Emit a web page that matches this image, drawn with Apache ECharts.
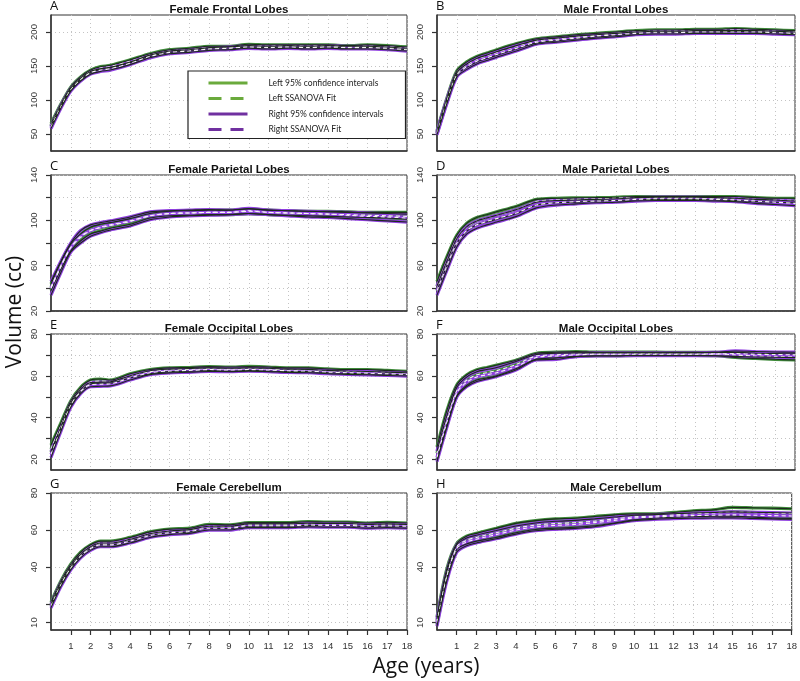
<!DOCTYPE html>
<html>
<head>
<meta charset="utf-8">
<script src="https://cdn.jsdelivr.net/npm/echarts@6/dist/echarts.min.js"></script>
<style>
  html, body { margin: 0; background: #fff; }
  #chart { width: 800px; height: 681px; }
</style>
</head>
<body>
<div id="chart"></div>
<script>
const ages = [0, 0.5, 1, 1.5, 2, 2.5, 3, 4, 5, 6, 7, 8, 9, 10, 11, 12, 13, 14, 15, 16, 17, 18]
const ageTicks = [1, 2, 3, 4, 5, 6, 7, 8, 9, 10, 11, 12, 13, 14, 15, 16, 17, 18]

const legendNames = ['Left 95% confidence intervals', 'Left SSANOVA Fit', 'Right 95% confidence intervals', 'Right SSANOVA Fit']
const panelTitles = ['Female Frontal Lobes', 'Male Frontal Lobes', 'Female Parietal Lobes', 'Male Parietal Lobes',
  'Female Occipital Lobes', 'Male Occipital Lobes', 'Female Cerebellum', 'Male Cerebellum']
const panelLetters = ['A', 'B', 'C', 'D', 'E', 'F', 'G', 'H']

// y axis ranges, grid step and labelled ticks per panel
const yMin = [25, 25, 20, 20, 15, 15, 6, 6]
const yMax = [225, 225, 140, 140, 80, 80, 80, 80]
const yStep = [50, 50, 20, 20, 10, 10, 10, 10]
const yTicks = [[50, 100, 150, 200], [50, 100, 150, 200], [20, 40, 60, 80, 100, 120, 140], [20, 40, 60, 80, 100, 120, 140],
  [20, 30, 40, 50, 60, 70, 80], [20, 30, 40, 50, 60, 70, 80], [10, 20, 40, 60, 80], [10, 20, 40, 60, 80]]
const yLabels = [[50, 100, 150, 200], [50, 100, 150, 200], [20, 60, 100, 140], [20, 60, 100, 140],
  [20, 40, 60, 80], [20, 40, 60, 80], [10, 40, 60, 80], [10, 40, 60, 80]]

// A - Female Frontal Lobes
const aLeftUp = [65, 94, 119, 134, 144, 149, 151, 159, 168, 174, 176, 179, 179, 182, 181, 181, 181, 181, 180, 181, 180, 178]
const aLeftFit = [63, 92, 117, 132, 142, 147, 149, 157, 166, 172, 174, 177, 177, 180, 179, 180, 179, 180, 178, 179, 178, 176]
const aLeftLo = [61, 90, 115, 130, 140, 145, 147, 155, 164, 170, 172, 175, 175, 178, 177, 178, 177, 178, 176, 177, 176, 174]
const aRightUp = [62, 92, 117, 132, 142, 146, 148, 156, 166, 172, 174, 177, 178, 180, 179, 180, 179, 180, 179, 179, 178, 176]
const aRightFit = [60, 90, 115, 130, 140, 144, 146, 154, 164, 170, 172, 175, 176, 178, 177, 178, 177, 178, 177, 177, 176, 174]
const aRightLo = [58, 88, 113, 128, 138, 142, 144, 152, 162, 168, 170, 173, 174, 176, 175, 176, 175, 176, 175, 175, 174, 172]

// B - Male Frontal Lobes
const bLeftUp = [55, 103, 143, 156, 164, 169, 174, 183, 190, 193, 196, 198, 200, 202, 203, 203, 204, 204, 205, 204, 203, 202]
const bLeftFit = [53, 100, 140, 152, 160, 165, 170, 179, 187, 190, 193, 195, 198, 200, 201, 201, 202, 202, 203, 202, 201, 200]
const bLeftLo = [51, 97, 137, 148, 156, 161, 166, 175, 184, 187, 190, 193, 195, 198, 199, 199, 200, 200, 201, 200, 199, 198]
const bRightUp = [53, 101, 140, 153, 161, 166, 171, 180, 188, 191, 194, 196, 198, 200, 201, 201, 202, 202, 202, 202, 201, 200]
const bRightFit = [51, 98, 137, 149, 157, 162, 167, 176, 185, 188, 191, 194, 196, 198, 199, 199, 200, 200, 200, 200, 199, 198]
const bRightLo = [49, 95, 134, 145, 153, 158, 163, 172, 182, 185, 188, 191, 193, 196, 197, 197, 198, 198, 198, 198, 197, 196]

// C - Female Parietal Lobes
const cLeftUp = [44, 63, 79, 88, 94, 96.5, 98, 101.5, 106, 108, 108.5, 109, 109, 110, 109, 108.5, 108, 108, 107.5, 107, 107, 107]
const cLeftFit = [41, 60, 76, 85, 91, 93.5, 95.5, 99, 104, 106, 106.5, 107, 107, 108, 107, 106.5, 106, 105.5, 105, 104.5, 104, 103.5]
const cLeftLo = [38, 57, 73, 82, 88, 90.5, 93, 96.5, 102, 104, 104.5, 105, 105, 106, 105, 104.5, 104, 103.5, 103, 102.5, 102, 101]
const cRightUp = [46, 64, 80, 91, 96, 98, 99.5, 103, 107.5, 108.5, 109, 109.5, 109, 110.5, 109, 108.5, 108, 107.5, 107, 106.5, 106, 105.5]
const cRightFit = [40, 59, 76, 86, 91, 94, 96, 99.5, 104, 106, 106.5, 107, 107, 108.5, 107, 106.5, 106, 105.5, 104.5, 103.5, 103, 102]
const cRightLo = [34, 54, 72, 80, 86, 89, 91.5, 95, 100.5, 103, 104, 104.5, 105, 106, 105, 104, 103, 102.5, 101.5, 100.5, 99.5, 98.5]

// D - Male Parietal Lobes
const dLeftUp = [46, 68, 87, 97.5, 102.5, 105, 107.5, 112.5, 118.5, 119.5, 119.8, 120, 120.3, 121, 121, 121, 121, 121, 121, 120, 119.5, 119.5]
const dLeftFit = [42, 64, 84, 94, 99.5, 102, 104.5, 109.5, 116.5, 118, 118.5, 119, 119.5, 120, 120, 120, 120, 119.5, 119.5, 118.5, 118, 117.5]
const dLeftLo = [38, 60, 80, 90.5, 96, 98.5, 101, 106, 113.5, 115.5, 116, 117, 117.5, 118, 118.5, 118.5, 118.5, 118, 117.5, 116.5, 116, 115.5]
const dRightUp = [42, 64, 84, 94.5, 99.5, 102, 104.5, 109.5, 116, 117.5, 118, 118.5, 119, 120, 120.5, 120.5, 120.5, 120, 119.5, 118.5, 118, 117]
const dRightFit = [38, 60, 80, 91, 96, 99, 101.5, 106.5, 113.5, 115.5, 116.5, 117, 117.5, 118.5, 119, 119, 119, 118.5, 118, 117, 116, 115]
const dRightLo = [34, 56, 76.7, 88, 93, 96, 98.5, 103.5, 111, 113.5, 114.5, 115.5, 116, 117, 117.5, 117.5, 117.5, 117, 116.5, 115, 114, 113]

// E - Female Occipital Lobes
const eLeftUp = [27, 37.5, 48, 54.5, 58, 58.5, 58, 61, 63, 63.8, 64, 64.4, 64.2, 64.5, 64.2, 63.8, 63.8, 63.3, 63, 63, 62.6, 62.2]
const eLeftFit = [25, 36, 47, 53.5, 57, 57.5, 57.3, 60, 62, 62.9, 63.1, 63.5, 63.2, 63.5, 63.2, 62.9, 62.9, 62.4, 62.1, 62, 61.7, 61.3]
const eLeftLo = [23.5, 35, 46, 52.5, 56, 56.5, 56.5, 59, 61, 62, 62.2, 62.5, 62.3, 62.6, 62.3, 62, 62, 61.5, 61.2, 61, 60.8, 60.5]
const eRightUp = [24, 35.5, 47, 53.5, 56.8, 57, 57.2, 60, 62.4, 63.2, 63.5, 63.8, 63.6, 63.8, 63.6, 63.2, 63.1, 62.6, 62.3, 62.1, 61.8, 61.5]
const eRightFit = [22.5, 34.5, 46, 52.5, 55.8, 56, 56.2, 59, 61.5, 62.3, 62.6, 63, 62.8, 63, 62.8, 62.4, 62.3, 61.8, 61.5, 61.3, 61, 60.7]
const eRightLo = [21, 33.5, 45, 51.5, 54.8, 55, 55.2, 58, 60.6, 61.4, 61.7, 62.1, 62, 62.2, 62, 61.6, 61.5, 61, 60.7, 60.5, 60.2, 59.9]

// F - Male Occipital Lobes
const fLeftUp = [26, 43.5, 55.7, 60.5, 62.9, 64, 65.2, 67.6, 70.8, 71.3, 71.6, 71.3, 71.3, 71.3, 71.3, 71.2, 71.2, 71.2, 71.2, 70.8, 70.6, 70.5]
const fLeftFit = [23, 40, 53, 58, 60.5, 61.5, 62.5, 65.5, 69.5, 70, 70.5, 70.5, 70.5, 70.6, 70.6, 70.5, 70.5, 70.5, 70, 69.5, 69.3, 69]
const fLeftLo = [20, 36.5, 50.5, 55.5, 58, 59, 60, 63.5, 68, 68.6, 69.3, 69.6, 69.6, 69.8, 69.8, 69.8, 69.8, 69.6, 68.8, 68.3, 67.9, 67.6]
const fRightUp = [24, 41, 54.5, 59.5, 62, 63, 64, 67, 70.2, 70.8, 71, 71, 71, 71, 71, 71, 71, 71.2, 71.9, 71.6, 71.4, 71.3]
const fRightFit = [21, 38, 52, 57, 59.5, 60.5, 61.5, 64.5, 68.8, 69.5, 70, 70.3, 70.3, 70.3, 70.3, 70.3, 70.3, 70.4, 70.6, 70.3, 70.2, 70]
const fRightLo = [19, 35.5, 50, 54.9, 57.3, 58.5, 59.7, 62.9, 67.6, 67.9, 69.2, 69.5, 69.5, 69.7, 69.6, 69.6, 69.6, 69.6, 69.3, 69, 68.9, 68.7]

// G - Female Cerebellum
const gLeftUp = [21, 32.5, 41.5, 48, 52, 54, 54, 56, 59, 60.5, 61, 63, 62.8, 64, 64, 64, 64.5, 64.3, 64.3, 63.8, 64.2, 63.8]
const gLeftFit = [20, 31.5, 40.5, 47, 51, 53, 53, 55, 58, 59.5, 60, 62, 61.8, 63, 63, 63, 63.5, 63.3, 63.3, 62.8, 63.2, 62.8]
const gLeftLo = [19, 30.5, 39.5, 46, 50, 52, 52, 54, 57, 58.5, 59, 61, 60.8, 62, 62, 62, 62.5, 62.3, 62.3, 61.8, 62.2, 61.8]
const gRightUp = [20, 31.5, 40.5, 47, 51, 53, 53, 55, 58, 59.5, 60.2, 62, 62, 63.3, 63.3, 63.3, 63.7, 63.5, 63.5, 63, 63.3, 63]
const gRightFit = [19, 30.5, 39.5, 46, 50, 52, 52, 54, 57, 58.5, 59.2, 61, 61, 62.3, 62.3, 62.3, 62.7, 62.5, 62.5, 62, 62.3, 62]
const gRightLo = [18, 29.5, 38.5, 45, 49, 51, 51, 53, 56, 57.5, 58.2, 60, 60, 61.3, 61.3, 61.3, 61.7, 61.5, 61.5, 61, 61.3, 61]

// H - Male Cerebellum
const hLeftUp = [13, 39, 52.7, 56.7, 58.2, 59.6, 60.9, 63.6, 65.1, 66, 66.4, 67.3, 68.2, 68.7, 68.7, 69.5, 70.4, 70.9, 72.2, 72, 71.8, 71.5]
const hLeftFit = [11, 36.5, 51, 54.5, 56, 57.3, 58.5, 61, 62.7, 63.5, 64, 64.8, 66, 67.1, 67.5, 68.2, 68.8, 69.2, 69.8, 69.5, 69.1, 68.9]
const hLeftLo = [9, 34, 49.5, 52.5, 54, 55, 56, 58.5, 60.3, 61, 61.5, 62.3, 63.8, 65.5, 66.4, 66.9, 67.2, 67.5, 67.5, 67, 66.5, 66.3]
const hRightUp = [12, 37.5, 52, 55.7, 57.2, 58.5, 59.7, 62.2, 63.8, 64.7, 65.2, 66, 67, 68, 68.3, 68.8, 69.2, 69.5, 69.8, 69.6, 69.4, 69.2]
const hRightFit = [10, 35, 50, 53.5, 55, 56.3, 57.5, 60, 61.7, 62.5, 63, 64, 65.2, 66.5, 67, 67.5, 67.8, 68, 68.2, 68, 67.8, 67.6]
const hRightLo = [8, 32.5, 48, 51.5, 53, 54.2, 55.3, 57.8, 59.6, 60.4, 60.9, 61.8, 63.5, 65, 65.7, 66.2, 66.4, 66.5, 66.6, 66.3, 66, 65.8]

const panels = [
  [aLeftUp, aLeftFit, aLeftLo, aRightUp, aRightFit, aRightLo],
  [bLeftUp, bLeftFit, bLeftLo, bRightUp, bRightFit, bRightLo],
  [cLeftUp, cLeftFit, cLeftLo, cRightUp, cRightFit, cRightLo],
  [dLeftUp, dLeftFit, dLeftLo, dRightUp, dRightFit, dRightLo],
  [eLeftUp, eLeftFit, eLeftLo, eRightUp, eRightFit, eRightLo],
  [fLeftUp, fLeftFit, fLeftLo, fRightUp, fRightFit, fRightLo],
  [gLeftUp, gLeftFit, gLeftLo, gRightUp, gRightFit, gRightLo],
  [hLeftUp, hLeftFit, hLeftLo, hRightUp, hRightFit, hRightLo],
]

const GREEN = '#6aaa3c'
const PURPLE = '#7030a0'
const GREEN_HALO = '#3f8a3a'
const PURPLE_HALO = '#9040e0'
const CORE = '#1c2a1c'
const AXIS = '#333'
const FONT = '"Liberation Sans", Arial, sans-serif'

const colLeft = [51, 437]
const colWidth = [356, 358]
const rowTop = [15, 175, 334, 493]
const rowHeight = [136, 136, 136, 137]

const grids = []
const xAxes = []
const yAxes = []
const series = []
const graphics = []

panels.forEach((lines, i) => {
  const col = i % 2
  const row = Math.floor(i / 2)
  const bottom = row === 3
  grids.push({
    left: colLeft[col], top: rowTop[row], width: colWidth[col], height: rowHeight[row],
    show: true, borderColor: AXIS, borderWidth: 1, backgroundColor: 'transparent',
  })
  xAxes.push({
    gridIndex: i, type: 'value', min: 0, max: 18, interval: 1,
    axisLine: { show: true, lineStyle: { color: AXIS, width: 1.5 } },
    axisTick: { show: bottom, length: 5, customValues: ageTicks, lineStyle: { color: AXIS, width: 1.2 } },
    axisLabel: {
      show: bottom, customValues: ageTicks, margin: 11, color: '#333', fontSize: 9.5, fontFamily: FONT,
      formatter: (v) => (v === 0 ? '' : String(v)),
    },
    splitLine: { show: true, lineStyle: { color: '#c4c4c4', type: [1, 3], width: 1 } },
  })
  const labels = yLabels[i]
  yAxes.push({
    gridIndex: i, type: 'value', min: yMin[i], max: yMax[i],
    minInterval: yStep[i], maxInterval: yStep[i],
    axisLine: { show: true, lineStyle: { color: AXIS, width: 1.5 } },
    axisTick: { show: true, length: 5, customValues: yTicks[i], lineStyle: { color: AXIS, width: 1.2 } },
    axisLabel: {
      customValues: labels, rotate: 90, margin: 12, color: '#333', fontSize: 9.5, fontFamily: FONT,
      formatter: (v) => (labels.includes(v) ? String(v) : ''),
    },
    splitLine: { show: true, lineStyle: { color: '#c4c4c4', type: [1, 3], width: 1 } },
  })

  // up, fit, lo for left (green) then right (purple)
  lines.forEach((vals, k) => {
    const halo = k < 3 ? GREEN_HALO : PURPLE_HALO
    const isFit = k % 3 === 1
    const data = ages.map((a, j) => [a, vals[j]])
    series.push({
      type: 'line', xAxisIndex: i, yAxisIndex: i, data, smooth: 0.3, symbol: 'none', silent: true, z: 2,
      lineStyle: { color: halo, width: 3.2 },
    })
    series.push({
      type: 'line', xAxisIndex: i, yAxisIndex: i, data, smooth: 0.3, symbol: 'none', silent: true, z: 3,
      lineStyle: { color: isFit ? '#f4f4f4' : CORE, width: 1.1, type: isFit ? [4, 3] : 'solid' },
    })
  })

  const cx = colLeft[col] + colWidth[col] / 2
  graphics.push({
    type: 'text', x: cx, y: rowTop[row] - 5,
    style: { text: panelTitles[i], font: 'bold 11.5px ' + FONT, fill: '#111', align: 'center', verticalAlign: 'middle', textAlign: 'center', textVerticalAlign: 'middle' },
  })
  graphics.push({
    type: 'text', x: colLeft[col] - 1, y: rowTop[row] - 9,
    style: { text: panelLetters[i], font: '13px "Open Sans", sans-serif', fill: '#111', align: 'left', verticalAlign: 'middle', textAlign: 'left', textVerticalAlign: 'middle' },
  })
})

// legend entries (no data, only give the legend its styles)
legendNames.forEach((name, k) => {
  const color = k < 2 ? GREEN : PURPLE
  series.push({
    name, type: 'line', xAxisIndex: 0, yAxisIndex: 0, data: [], symbol: 'none',
    itemStyle: { color },
    lineStyle: { color, width: 3, type: k % 2 === 1 ? [13, 9] : 'solid' },
  })
})

graphics.push({
  type: 'text', x: 426, y: 667,
  style: { text: 'Age (years)', font: '21px "Open Sans", sans-serif', fill: '#111', align: 'center', verticalAlign: 'middle', textAlign: 'center', textVerticalAlign: 'middle' },
})
graphics.push({
  type: 'text', x: 15, y: 312, rotation: Math.PI / 2,
  style: { text: 'Volume (cc)', font: '21px "Open Sans", sans-serif', fill: '#111', align: 'center', verticalAlign: 'middle', textAlign: 'center', textVerticalAlign: 'middle' },
})

const chart = echarts.init(document.getElementById('chart'), null, { renderer: 'canvas' })
chart.setOption({
  animation: false,
  backgroundColor: '#fff',
  grid: grids,
  xAxis: xAxes,
  yAxis: yAxes,
  legend: {
    orient: 'vertical', left: 188, top: 71,
    data: legendNames, selectedMode: false,
    itemWidth: 39, itemHeight: 4, itemGap: 3.5,
    padding: [6, 22, 3, 19],
    backgroundColor: '#fff', borderColor: '#222', borderWidth: 1.2, borderRadius: 0,
    lineStyle: { width: 3 },
    itemStyle: { opacity: 0 },
    textStyle: { fontSize: 8.5, fontFamily: 'Lato, sans-serif', color: '#222', lineHeight: 12, padding: [0, 0, 0, 16] },
    z: 10,
  },
  graphic: graphics,
  series,
})
</script>
</body>
</html>
